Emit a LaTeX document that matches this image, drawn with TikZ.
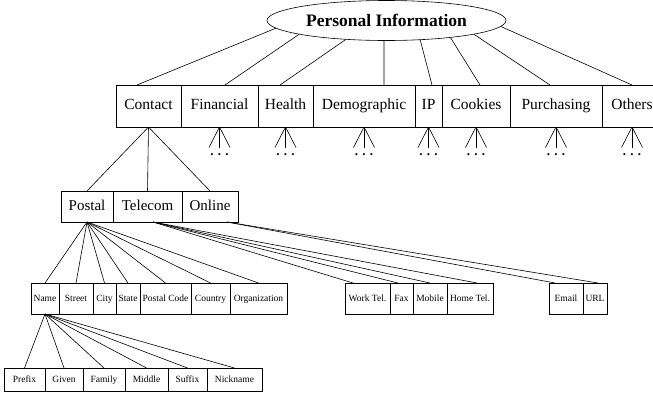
\documentclass[tikz,border=0pt]{standalone}
\usepackage{fontspec}
\setmainfont{Liberation Serif}
\usetikzlibrary{positioning,shapes.geometric}

\tikzset{
  field/.style={draw, outer sep=0pt, inner xsep=1pt, inner ysep=0pt},
  topbox/.style={field, minimum height=42pt, text height=11pt, text depth=3.5pt, font=\fontsize{15.5}{18}\selectfont},
  midbox/.style={field, minimum height=31pt, text height=10.5pt, text depth=3.5pt, font=\fontsize{15}{18}\selectfont},
  leafbox/.style={field, minimum height=31pt, text height=7pt, text depth=2pt, font=\fontsize{9.5}{11}\selectfont},
  subbox/.style={field, minimum height=23pt, text height=7pt, text depth=2pt, font=\fontsize{9.5}{11}\selectfont},
  more/.style={inner sep=0pt, text height=8pt, text depth=0pt, font=\fontsize{13}{13}\selectfont\bfseries},
}

\begin{document}
\begin{tikzpicture}[x=1pt, y=1pt, line width=0.6pt]
  \useasboundingbox (0,0) rectangle (653,-394);

  \node (pi) [ellipse, draw, inner sep=0pt, minimum width=239pt, minimum height=40pt,
    font=\fontsize{17.5}{20}\selectfont\bfseries] at (386.5,-20.5) {Personal Information};

  % first level
  \node (contact) [topbox, minimum width=65pt] at (148.5,-106) {Contact};
  \node (financial) [topbox, minimum width=77pt, right=0pt of contact] {Financial};
  \node (health) [topbox, minimum width=55pt, right=0pt of financial] {Health};
  \node (demographic) [topbox, minimum width=102pt, right=0pt of health] {Demographic};
  \node (ip) [topbox, minimum width=27pt, right=0pt of demographic] {IP};
  \node (cookies) [topbox, minimum width=68pt, right=0pt of ip] {Cookies};
  \node (purchasing) [topbox, minimum width=92pt, right=0pt of cookies] {Purchasing};
  \node (others) [topbox, minimum width=60pt, right=0pt of purchasing] {Others};

  % contact
  \node (postal) [midbox, minimum width=52pt] at (87,-206.5) {Postal};
  \node (telecom) [midbox, minimum width=69pt, right=0pt of postal] {Telecom};
  \node (online) [midbox, minimum width=56pt, right=0pt of telecom] {Online};

  % postal
  \node (name) [leafbox, minimum width=28pt] at (45,-298.5) {Name};
  \node (street) [leafbox, minimum width=34pt, right=0pt of name] {Street};
  \node (city) [leafbox, minimum width=23pt, right=0pt of street] {City};
  \node (state) [leafbox, minimum width=24pt, right=0pt of city] {State};
  \node (code) [leafbox, minimum width=51pt, right=0pt of state] {Postal Code};
  \node (country) [leafbox, minimum width=39pt, right=0pt of code] {Country};
  \node (org) [leafbox, minimum width=57pt, right=0pt of country] {Organization};

  % telecom, online
  \node (worktel) [leafbox, minimum width=45pt] at (367.5,-298.5) {Work Tel.};
  \node (fax) [leafbox, minimum width=23pt, right=0pt of worktel] {Fax};
  \node (mobile) [leafbox, minimum width=34pt, right=0pt of fax] {Mobile};
  \node (hometel) [leafbox, minimum width=46pt, right=0pt of mobile] {Home Tel.};
  \node (email) [leafbox, minimum width=34pt] at (566,-298.5) {Email};
  \node (url) [leafbox, minimum width=24pt, right=0pt of email] {URL};

  % name
  \node (prefix) [subbox, minimum width=41pt] at (24.5,-379.5) {Prefix};
  \node (given) [subbox, minimum width=38pt, right=0pt of prefix] {Given};
  \node (family) [subbox, minimum width=42pt, right=0pt of given] {Family};
  \node (middle) [subbox, minimum width=43pt, right=0pt of family] {Middle};
  \node (suffix) [subbox, minimum width=39pt, right=0pt of middle] {Suffix};
  \node (nickname) [subbox, minimum width=55pt, right=0pt of suffix] {Nickname};

  \path
    (pi.184) edge ([xshift=-11.5pt]contact.north)
    (pi.189) edge ([xshift=5.5pt]financial.north)
    (pi.205) edge ([xshift=-5.5pt]health.north)
    (pi.263) edge ([xshift=20pt]demographic.north)
    (pi.330) edge ([xshift=3.5pt]ip.north)
    (pi.345) edge ([xshift=4pt]cookies.north)
    (pi.351) edge ([xshift=-6pt]purchasing.north)
    (pi.357) edge (others.north)
    (contact.south) edge (postal.north)
    (contact.south) edge (telecom.north)
    (contact.south) edge (online.north)
    (postal.south) edge (name.north)
    (postal.south) edge (street.north)
    (postal.south) edge (city.north)
    (postal.south) edge (state.north)
    (postal.south) edge (code.north)
    (postal.south) edge (country.north)
    (postal.south) edge (org.north)
    ([xshift=5.5pt]telecom.south) edge ([xshift=-14.5pt]worktel.north)
    ([xshift=5.5pt]telecom.south) edge ([xshift=-3.5pt]fax.north)
    ([xshift=5.5pt]telecom.south) edge (mobile.north)
    ([xshift=5.5pt]telecom.south) edge ([xshift=7pt]hometel.north)
    ([xshift=17pt]online.south) edge ([xshift=-11pt]email.north)
    ([xshift=17pt]online.south) edge ([xshift=3pt]url.north)
    (name.south) edge (prefix.north)
    (name.south) edge (given.north)
    (name.south) edge (family.north)
    (name.south) edge (middle.north)
    (name.south) edge (suffix.north)
    (name.south) edge (nickname.north);

  % not expanded
  \foreach \b in {financial,health,demographic,ip,cookies,purchasing,others} {
    \node (\b-more) [more, below=20.5pt of \b] {. . .};
    \path
      (\b.south) edge ([xshift=-10.5pt]\b-more.north)
      (\b.south) edge (\b-more.north)
      (\b.south) edge ([xshift=10.5pt]\b-more.north);
  }
\end{tikzpicture}
\end{document}
